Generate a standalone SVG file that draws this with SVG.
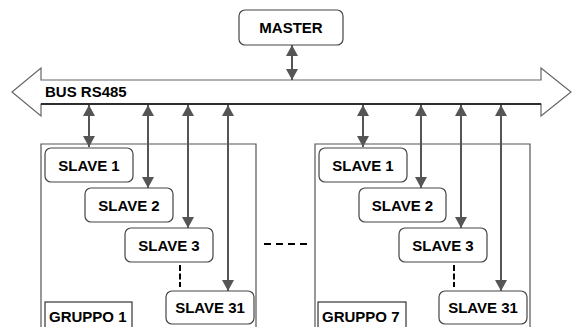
<svg xmlns="http://www.w3.org/2000/svg" width="573" height="327" viewBox="0 0 573 327">
<style>
.box{fill:#fff;stroke:#444;stroke-width:1.2}
.grp{fill:none;stroke:#555;stroke-width:1.2}
.lbl{fill:none;stroke:#333;stroke-width:1.2}
.t{font-family:"Liberation Sans",Arial,sans-serif;font-weight:bold;font-size:15px;fill:#000}
.arr{stroke:#555;stroke-width:2;fill:none;marker-start:url(#ah);marker-end:url(#ah)}
.dash{stroke:#000;stroke-width:2;fill:none}
</style>
<defs>
<marker id="ah" markerUnits="userSpaceOnUse" markerWidth="12" markerHeight="12" refX="11" refY="6" orient="auto-start-reverse" viewBox="0 0 12 12">
<path d="M0,0 L11,6 L0,12 z" fill="#555"/>
</marker>
</defs>
<rect width="573" height="327" fill="#fff"/>
<g id="bus">
<polygon points="12,92 41,68 41,80 541,80 541,68 571,92 541,116 541,104 41,104 41,116" fill="#fff" stroke="#666" stroke-width="1.2"/>
<line x1="41" y1="104" x2="541" y2="104" stroke="#000" stroke-width="1.4"/>
<text class="t" x="45" y="97">BUS RS485</text>
</g>
<g id="master">
<rect class="box" x="239" y="10" width="104" height="35" rx="6"/>
<text class="t" x="291" y="32.5" text-anchor="middle">MASTER</text>
</g>
<g id="gruppo1">
<path class="grp" d="M41,330 V144 H256 V330"/>
<rect class="lbl" x="45" y="302" width="87" height="30"/>
<text class="t" x="49" y="322">GRUPPO 1</text>
</g>
<g id="g1-slave1"><rect class="box" x="45" y="148" width="88" height="34" rx="6"/><text class="t" x="89" y="170.5" text-anchor="middle">SLAVE 1</text></g>
<g id="g1-slave2"><rect class="box" x="85" y="188" width="88" height="34" rx="6"/><text class="t" x="129" y="210.5" text-anchor="middle">SLAVE 2</text></g>
<g id="g1-slave3"><rect class="box" x="125" y="228" width="88" height="34" rx="6"/><text class="t" x="169" y="250.5" text-anchor="middle">SLAVE 3</text></g>
<g id="g1-slave31"><rect class="box" x="166" y="291" width="88" height="33" rx="6"/><text class="t" x="210" y="313" text-anchor="middle">SLAVE 31</text></g>
<g id="gruppo7">
<path class="grp" d="M315,330 V144 H530 V330"/>
<rect class="lbl" x="318" y="302" width="88" height="30"/>
<text class="t" x="322" y="322">GRUPPO 7</text>
</g>
<g id="g7-slave1"><rect class="box" x="319" y="148" width="88" height="34" rx="6"/><text class="t" x="363" y="170.5" text-anchor="middle">SLAVE 1</text></g>
<g id="g7-slave2"><rect class="box" x="359" y="188" width="87" height="34" rx="6"/><text class="t" x="402.5" y="210.5" text-anchor="middle">SLAVE 2</text></g>
<g id="g7-slave3"><rect class="box" x="399" y="228" width="88" height="34" rx="6"/><text class="t" x="443" y="250.5" text-anchor="middle">SLAVE 3</text></g>
<g id="g7-slave31"><rect class="box" x="439" y="291" width="88" height="33" rx="6"/><text class="t" x="483" y="313" text-anchor="middle">SLAVE 31</text></g>
<g id="connectors">
<line class="arr" x1="292" y1="45" x2="292" y2="80"/>
<line class="arr" x1="89" y1="105" x2="89" y2="147"/>
<line class="arr" x1="148" y1="105" x2="148" y2="188"/>
<line class="arr" x1="188" y1="105" x2="188" y2="228"/>
<line class="arr" x1="228" y1="105" x2="228" y2="291"/>
<line class="arr" x1="363" y1="105" x2="363" y2="147"/>
<line class="arr" x1="421" y1="105" x2="421" y2="188"/>
<line class="arr" x1="461" y1="105" x2="461" y2="228"/>
<line class="arr" x1="501" y1="105" x2="501" y2="291"/>
<line class="dash" x1="180" y1="265" x2="180" y2="287" stroke-dasharray="6 2.5"/>
<line class="dash" x1="454" y1="265" x2="454" y2="287" stroke-dasharray="6 2.5"/>
<line class="dash" x1="264" y1="244" x2="309" y2="244" stroke-dasharray="7 5"/>
</g>
</svg>
